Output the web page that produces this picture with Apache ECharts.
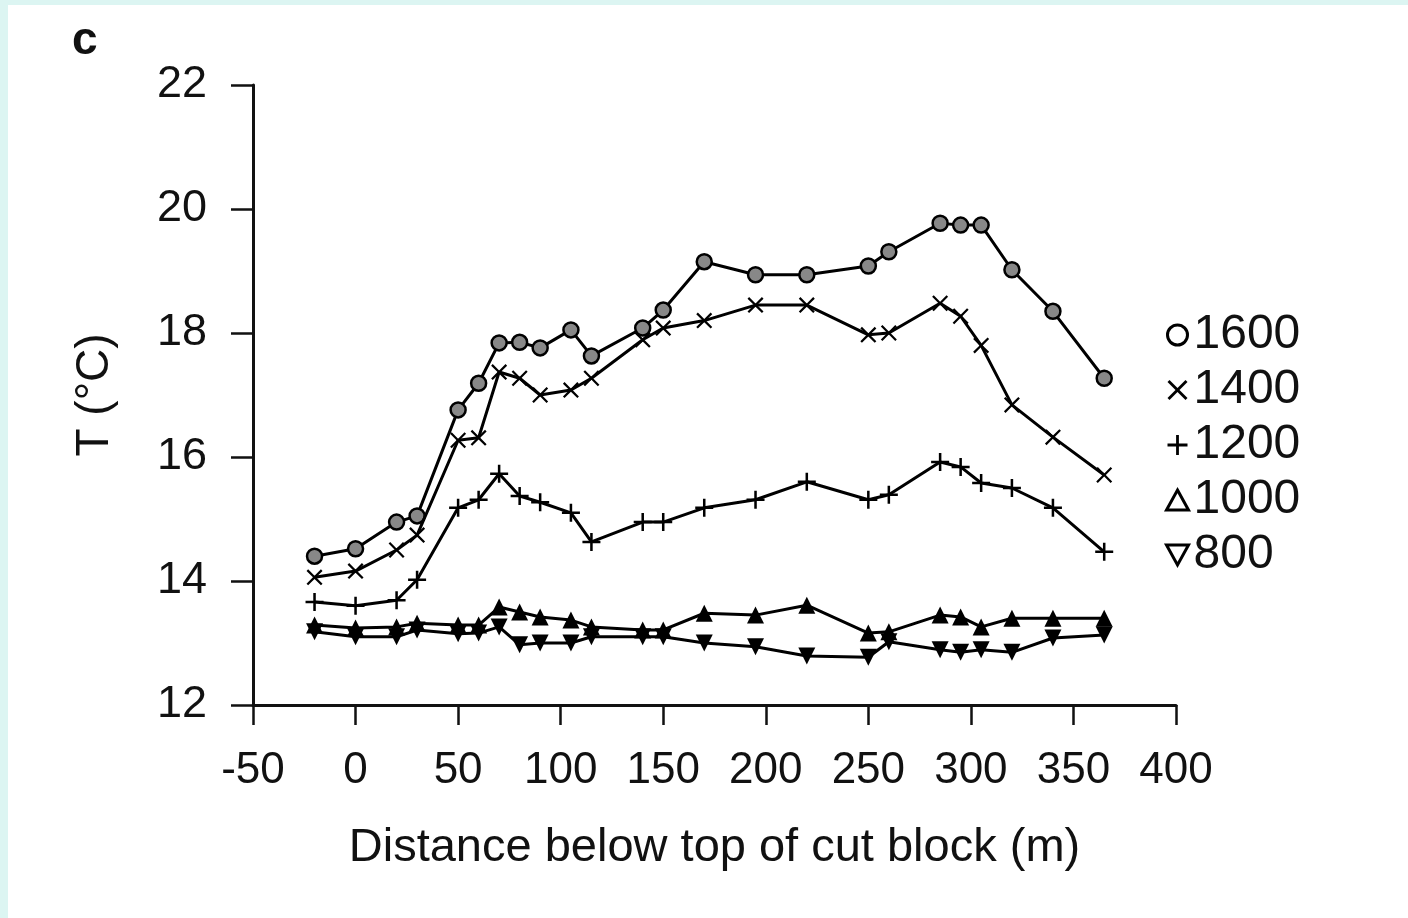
<!DOCTYPE html>
<html>
<head>
<meta charset="utf-8">
<script src="https://cdn.jsdelivr.net/npm/echarts@6/dist/echarts.min.js"></script>
<style>
html,body{margin:0;padding:0;background:#fff;}
#c{width:1408px;height:918px;}
</style>
</head>
<body>
<div id="c"></div>
<script>
const distances = [-20, 0, 20, 30, 50, 60, 70, 80, 90, 105, 115, 140, 150, 170, 195, 220, 250, 260, 285, 295, 305, 320, 340, 365];
const seriesNames = ['1600', '1400', '1200', '1000', '800'];
const t1600 = [14.40, 14.52, 14.95, 15.05, 16.76, 17.19, 17.84, 17.85, 17.76, 18.05, 17.63, 18.08, 18.37, 19.15, 18.94, 18.94, 19.08, 19.31, 19.77, 19.74, 19.74, 19.02, 18.35, 17.27];
const t1400 = [14.06, 14.16, 14.50, 14.74, 16.27, 16.31, 17.37, 17.27, 17.00, 17.08, 17.27, 17.89, 18.08, 18.20, 18.45, 18.45, 17.97, 18.00, 18.48, 18.27, 17.80, 16.84, 16.32, 15.71];
const t1200 = [13.66, 13.60, 13.69, 14.02, 15.18, 15.31, 15.73, 15.37, 15.27, 15.10, 14.63, 14.95, 14.95, 15.18, 15.31, 15.60, 15.31, 15.39, 15.92, 15.84, 15.58, 15.50, 15.18, 14.47];
const t1000 = [13.29, 13.24, 13.26, 13.32, 13.29, 13.29, 13.58, 13.50, 13.42, 13.37, 13.26, 13.21, 13.21, 13.48, 13.45, 13.61, 13.16, 13.18, 13.45, 13.42, 13.26, 13.40, 13.40, 13.40];
const t800  = [13.18, 13.10, 13.10, 13.21, 13.15, 13.16, 13.26, 12.97, 13.00, 13.00, 13.10, 13.10, 13.10, 13.00, 12.94, 12.79, 12.77, 13.02, 12.89, 12.85, 12.89, 12.85, 13.08, 13.13];
const xTicks = [-50, 0, 50, 100, 150, 200, 250, 300, 350, 400];
const yTicks = [12, 14, 16, 18, 20, 22];

const FONT = '"Liberation Sans", Arial, sans-serif';
const CROSS = 'path://M1,0L5,4L9,0L10,1L6,5L10,9L9,10L5,6L1,10L0,9L4,5L0,1Z';
const PLUS = 'path://M4.3,0L5.7,0L5.7,4.3L10,4.3L10,5.7L5.7,5.7L5.7,10L4.3,10L4.3,5.7L0,5.7L0,4.3L4.3,4.3Z';
const TRI_DOWN = 'path://M0,0L10,0L5,9Z';

function pairs(vals){ return distances.map((d,i)=>[d, vals[i]]); }

const seriesVals = [t1600, t1400, t1200, t1000, t800];
const plotSymbols = ['circle', CROSS, PLUS, 'triangle', TRI_DOWN];
const plotSizes = [15, 16, 18, 17, 17];
const plotFill = ['#888', '#000', '#000', '#000', '#000'];
const plotBorder = [2.5, 0, 0, 0, 0];

const chart = echarts.init(document.getElementById('c'), null, {renderer:'canvas'});
chart.setOption({
  backgroundColor: '#ffffff',
  animation: false,
  textStyle: {fontFamily: FONT},
  graphic: [
    {type:'rect', left:0, top:0, shape:{width:1408, height:5}, style:{fill:'#dcf5f2'}, z:100},
    {type:'rect', left:0, top:0, shape:{width:8, height:918}, style:{fill:'#dcf5f2'}, z:100},
    {type:'text', left:72, top:18, style:{text:'c', font:'bold 46px ' + FONT, fill:'#111'}}
  ],
  grid: {left:253, right:1408-1176, top:85, bottom:918-705, containLabel:false},
  legend: {
    orient:'vertical', left:1160, top:306,
    itemWidth:22, itemHeight:20, itemGap:7,
    textStyle:{fontSize:48, color:'#111', fontFamily:FONT, lineHeight:47},
    data: [
      {name:'1600', icon:'circle', itemStyle:{color:'#fff', borderColor:'#000', borderWidth:3}},
      {name:'1400', icon:CROSS, itemStyle:{color:'#000', borderWidth:0}},
      {name:'1200', icon:PLUS, itemStyle:{color:'#000', borderWidth:0}},
      {name:'1000', icon:'triangle', itemStyle:{color:'#fff', borderColor:'#000', borderWidth:3}},
      {name:'800', icon:TRI_DOWN, itemStyle:{color:'#fff', borderColor:'#000', borderWidth:3}}
    ]
  },
  xAxis: {
    type:'value', min:-50, max:400, interval:50,
    name:'Distance below top of cut block (m)', nameLocation:'middle', nameGap:120,
    nameTextStyle:{fontSize:47, color:'#111', fontFamily:FONT},
    axisLine:{show:true, onZero:false, lineStyle:{color:'#111', width:3}},
    axisTick:{show:true, length:20, lineStyle:{color:'#111', width:2.5}},
    axisLabel:{fontSize:44, color:'#111', margin:44, fontFamily:FONT,
      formatter: v => xTicks.includes(v) ? String(v) : ''},
    splitLine:{show:false}
  },
  yAxis: {
    type:'value', min:12, max:22, interval:2,
    name:'T (°C)', nameLocation:'middle', nameGap:135, nameRotate:90,
    nameTextStyle:{fontSize:46, color:'#111', fontFamily:FONT},
    axisLine:{show:true, onZero:false, lineStyle:{color:'#111', width:3}},
    axisTick:{show:true, length:22, lineStyle:{color:'#111', width:2.5}},
    axisLabel:{fontSize:45, color:'#111', margin:46, fontFamily:FONT,
      formatter: v => yTicks.includes(v) ? String(v) : ''},
    splitLine:{show:false}
  },
  series: seriesNames.map((n,i)=>({
    name:n, type:'line', data:pairs(seriesVals[i]),
    symbol:plotSymbols[i], symbolSize:plotSizes[i], showSymbol:true,
    lineStyle:{color:'#000', width:3},
    itemStyle:{color:plotFill[i], borderColor:'#000', borderWidth:plotBorder[i]},
    z: 2 + i
  }))
});
</script>
</body>
</html>
